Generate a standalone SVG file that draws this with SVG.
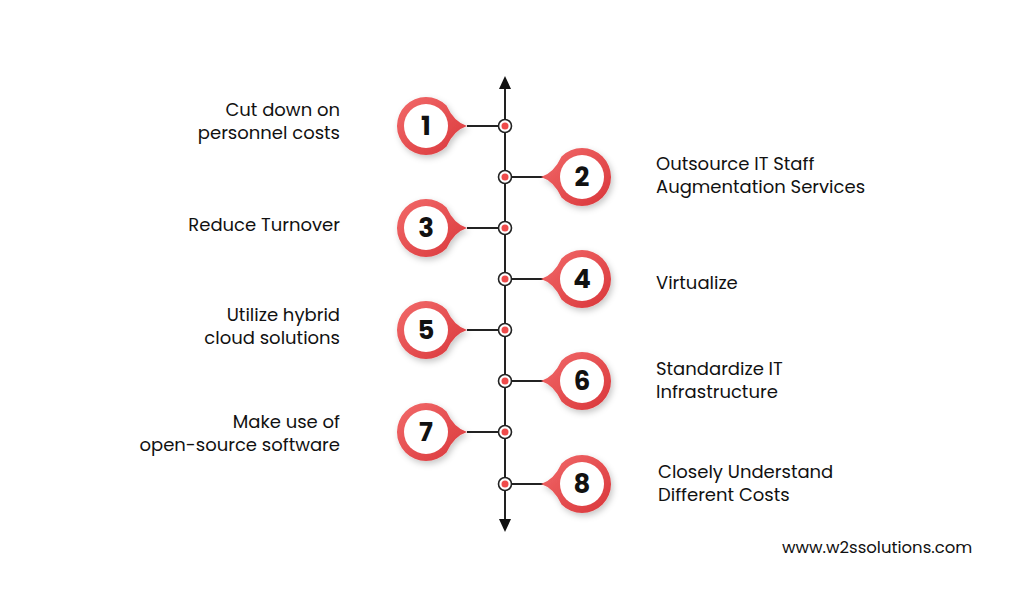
<svg xmlns="http://www.w3.org/2000/svg" width="1024" height="590" viewBox="0 0 1024 590">
<defs>
<linearGradient id="rg" x1="0" y1="0" x2="1" y2="1">
<stop offset="0" stop-color="#f26a6a"/>
<stop offset="1" stop-color="#d9363a"/>
</linearGradient>
<filter id="sh" x="-30%" y="-30%" width="160%" height="160%">
<feDropShadow dx="2" dy="3" stdDeviation="3" flood-color="#000" flood-opacity="0.22"/>
</filter>
<path id="pinL" d="M41,0 Q28,-4 20.5,-20.5 A29 29 0 1 0 20.5,20.5 Q28,4 41,0 Z"/>
<path id="pinR" d="M-41,0 Q-28,-4 -20.5,-20.5 A29 29 0 1 1 -20.5,20.5 Q-28,4 -41,0 Z"/>
</defs>
<style>
.lbl{font-family:"Poppins","Open Sans","Liberation Sans",sans-serif;font-size:18px;fill:#111}
.l{text-anchor:end}
.num{font-family:"Poppins","Open Sans","Liberation Sans",sans-serif;font-size:26px;font-weight:700;fill:#111;text-anchor:middle}
.ln{stroke:#222;stroke-width:2;fill:none}
.dot{fill:#fff;stroke:#222;stroke-width:1.6}
.dc{fill:#ef4b4b}
.pin{fill:url(#rg);filter:url(#sh)}
.in{fill:#fff}
</style>
<rect width="1024" height="590" fill="#fff"/>
<g id="connectors">
<line class="ln" x1="505" y1="88" x2="505" y2="522"/>
<polygon points="505,76 499,89 511,89" fill="#111"/>
<polygon points="505,532 499,519 511,519" fill="#111"/>
<line class="ln" x1="467" y1="126" x2="505" y2="126"/>
<line class="ln" x1="505" y1="177" x2="543" y2="177"/>
<line class="ln" x1="467" y1="228" x2="505" y2="228"/>
<line class="ln" x1="505" y1="279" x2="543" y2="279"/>
<line class="ln" x1="467" y1="330" x2="505" y2="330"/>
<line class="ln" x1="505" y1="381" x2="543" y2="381"/>
<line class="ln" x1="467" y1="432" x2="505" y2="432"/>
<line class="ln" x1="505" y1="484" x2="543" y2="484"/>
<g>
<circle class="dot" cx="505" cy="126" r="6.5"/><circle class="dc" cx="505" cy="126" r="3.5"/>
<circle class="dot" cx="505" cy="177" r="6.5"/><circle class="dc" cx="505" cy="177" r="3.5"/>
<circle class="dot" cx="505" cy="228" r="6.5"/><circle class="dc" cx="505" cy="228" r="3.5"/>
<circle class="dot" cx="505" cy="279" r="6.5"/><circle class="dc" cx="505" cy="279" r="3.5"/>
<circle class="dot" cx="505" cy="330" r="6.5"/><circle class="dc" cx="505" cy="330" r="3.5"/>
<circle class="dot" cx="505" cy="381" r="6.5"/><circle class="dc" cx="505" cy="381" r="3.5"/>
<circle class="dot" cx="505" cy="432" r="6.5"/><circle class="dc" cx="505" cy="432" r="3.5"/>
<circle class="dot" cx="505" cy="484" r="6.5"/><circle class="dc" cx="505" cy="484" r="3.5"/>
</g>
</g>
<g id="n1" transform="translate(426,126)"><use href="#pinL" class="pin"/><circle class="in" r="22"/><text class="num" y="9">1</text></g>
<g id="n2" transform="translate(582,177)"><use href="#pinR" class="pin"/><circle class="in" r="22"/><text class="num" y="9">2</text></g>
<g id="n3" transform="translate(426,228)"><use href="#pinL" class="pin"/><circle class="in" r="22"/><text class="num" y="9">3</text></g>
<g id="n4" transform="translate(582,279)"><use href="#pinR" class="pin"/><circle class="in" r="22"/><text class="num" y="9">4</text></g>
<g id="n5" transform="translate(426,330)"><use href="#pinL" class="pin"/><circle class="in" r="22"/><text class="num" y="9">5</text></g>
<g id="n6" transform="translate(582,381)"><use href="#pinR" class="pin"/><circle class="in" r="22"/><text class="num" y="9">6</text></g>
<g id="n7" transform="translate(426,432)"><use href="#pinL" class="pin"/><circle class="in" r="22"/><text class="num" y="9">7</text></g>
<g id="n8" transform="translate(582,484)"><use href="#pinR" class="pin"/><circle class="in" r="22"/><text class="num" y="9">8</text></g>
<g id="labels">
<text class="lbl l" x="340" y="116">Cut down on</text>
<text class="lbl l" x="340" y="139">personnel costs</text>
<text class="lbl" x="656" y="170">Outsource IT Staff</text>
<text class="lbl" x="656" y="193">Augmentation Services</text>
<text class="lbl l" x="340" y="231">Reduce Turnover</text>
<text class="lbl" x="656" y="289">Virtualize</text>
<text class="lbl l" x="340" y="321">Utilize hybrid</text>
<text class="lbl l" x="340" y="344">cloud solutions</text>
<text class="lbl" x="656" y="375">Standardize IT</text>
<text class="lbl" x="656" y="398">Infrastructure</text>
<text class="lbl l" x="340" y="428">Make use of</text>
<text class="lbl l" x="340" y="451">open-source software</text>
<text class="lbl" x="658" y="478">Closely Understand</text>
<text class="lbl" x="658" y="501">Different Costs</text>
<text class="lbl" x="782" y="553" style="font-size:16.5px">www.w2ssolutions.com</text>
</g>
</svg>
